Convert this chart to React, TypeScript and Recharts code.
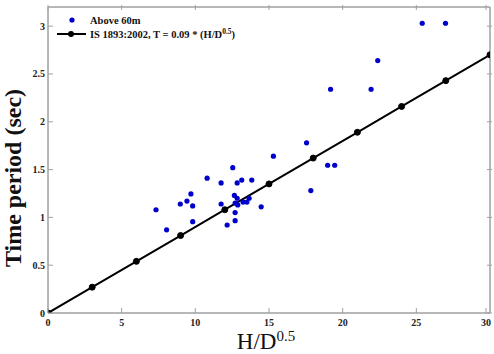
import React from "react";
import { ComposedChart, Scatter, Line, XAxis, YAxis, ReferenceArea } from "recharts";

const xTicks = [0, 5, 10, 15, 20, 25, 30];
const yTicks = [0, 0.5, 1, 1.5, 2, 2.5, 3];

// Measured buildings above 60m: H/D^0.5 and time period (sec)
const aboveX = [7.33, 8.05, 8.98, 9.43, 9.7, 9.82, 9.82, 10.8, 11.75, 11.75, 12.16, 12.54, 12.84, 13.15, 13.83, 12.65, 12.84, 12.7, 12.88, 13.24, 13.5, 13.65, 12.7, 12.7, 14.47, 15.3, 17.55, 18.98, 19.46, 17.84, 19.18, 21.93, 22.38, 25.4, 26.98];
const aboveT = [1.08, 0.87, 1.14, 1.17, 1.245, 1.12, 0.955, 1.41, 1.36, 1.14, 0.92, 1.52, 1.36, 1.39, 1.39, 1.23, 1.2, 1.15, 1.13, 1.16, 1.16, 1.2, 1.05, 0.965, 1.11, 1.64, 1.78, 1.545, 1.545, 1.28, 2.34, 2.34, 2.64, 3.03, 3.03];

// IS 1893:2002 code line, T = 0.09 * (H/D^0.5)
const codeX = [0, 3, 6, 9, 12, 15, 18, 21, 24, 27, 30];
const codeT = [0, 0.27, 0.54, 0.81, 1.08, 1.35, 1.62, 1.89, 2.16, 2.43, 2.7];

const scatterData = aboveX.map((x, i) => ({ x, y: aboveT[i] }));
const lineData = codeX.map((x, i) => ({ x, y: codeT[i] }));

const FONT = "'Liberation Serif', 'DejaVu Serif', serif";
const AXIS = "#a0a0a0";

const BottomTick = (p: any) => (
  <g>
    <line x1={p.x} x2={p.x} y1={p.y} y2={p.y - 5} stroke={AXIS} />
    <text x={p.x} y={p.y + 13} textAnchor="middle" fontFamily={FONT} fontWeight="bold" fontSize={10} fill="#222">
      {p.payload.value}
    </text>
  </g>
);
const TopTick = (p: any) => (
  <line x1={p.x} x2={p.x} y1={p.y} y2={p.y + 5} stroke={AXIS} />
);
const LeftTick = (p: any) => (
  <g>
    <line x1={p.x} x2={p.x + 5} y1={p.y} y2={p.y} stroke={AXIS} />
    <text x={p.x - 3} y={p.y + 3.5} textAnchor="end" fontFamily={FONT} fontWeight="bold" fontSize={10} fill="#222">
      {p.payload.value}
    </text>
  </g>
);
const RightTick = (p: any) => (
  <line x1={p.x} x2={p.x - 5} y1={p.y} y2={p.y} stroke={AXIS} />
);

export default function App() {
  return (
    <div style={{ position: "absolute", left: 0, top: 0, width: 494, height: 354, background: "#fff" }}>
      <ComposedChart
        width={494}
        height={354}
        margin={{ top: 6, right: 3, bottom: 0, left: 0 }}
      >
        <XAxis
          xAxisId="b"
          type="number"
          dataKey="x"
          domain={[0, 30]}
          ticks={xTicks}
          allowDataOverflow
          axisLine={{ stroke: AXIS }}
          tickLine={false}
          tickSize={0}
          tickMargin={0}
          tick={<BottomTick />}
          height={41}
        />
        <XAxis
          xAxisId="t"
          orientation="top"
          type="number"
          dataKey="x"
          domain={[0, 30]}
          ticks={xTicks}
          allowDataOverflow
          axisLine={{ stroke: AXIS }}
          tickLine={false}
          tickSize={0}
          tick={<TopTick />}
          height={1}
        />
        <YAxis
          yAxisId="l"
          type="number"
          dataKey="y"
          domain={[0, 3.2]}
          ticks={yTicks}
          allowDataOverflow
          axisLine={{ stroke: AXIS }}
          tickLine={false}
          tickSize={0}
          tickMargin={0}
          tick={<LeftTick />}
          width={48}
        />
        <YAxis
          yAxisId="r"
          orientation="right"
          type="number"
          dataKey="y"
          domain={[0, 3.2]}
          ticks={yTicks}
          allowDataOverflow
          axisLine={{ stroke: AXIS }}
          tickLine={false}
          tickSize={0}
          tick={<RightTick />}
          width={1}
        />
        <ReferenceArea
          xAxisId="b"
          yAxisId="l"
          x1={0}
          x2={30}
          y1={0}
          y2={3.2}
          fill="none"
          fillOpacity={0}
          stroke={AXIS}
          strokeOpacity={1}
          ifOverflow="visible"
        />
        <Line
          xAxisId="b"
          yAxisId="l"
          data={lineData}
          dataKey="y"
          type="linear"
          stroke="#000"
          strokeWidth={2}
          dot={{ r: 3, fill: "#000", stroke: "#000", strokeWidth: 1 }}
          isAnimationActive={false}
        />
        <Scatter
          xAxisId="b"
          yAxisId="l"
          data={scatterData}
          dataKey="y"
          fill="#0000cc"
          shape={(p: any) => <circle cx={p.cx} cy={p.cy} r={2.6} fill="#0000cc" />}
          isAnimationActive={false}
        />
      </ComposedChart>

      <div style={{ position: "absolute", left: 50, top: 10, pointerEvents: "none" }}>
        <svg width={240} height={36}>
          <circle cx={22} cy={10} r={2.6} fill="#0000cc" />
          <text x={40} y={14} fontFamily={FONT} fontWeight="bold" fontSize={10.5} fill="#111">Above  60m</text>
          <line x1={7} x2={36} y1={24} y2={24} stroke="#000" strokeWidth={2} />
          <circle cx={21} cy={24} r={3} fill="#000" />
          <text x={40} y={28} fontFamily={FONT} fontWeight="bold" fontSize={10.5} fill="#111">
            IS 1893:2002, T = 0.09 * (H/D
            <tspan fontSize={7.5} dy={-4}>0.5</tspan>
            <tspan dy={4}>)</tspan>
          </text>
        </svg>
      </div>

      <div style={{ position: "absolute", left: 0, top: 0, pointerEvents: "none" }}>
        <svg width={494} height={354}>
          <text
            transform="translate(21,178) rotate(-90)"
            textAnchor="middle"
            fontFamily={FONT}
            fontWeight="bold"
            fontSize={24}
            fill="#111"
          >
            Time period (sec)
          </text>
          <text x={266} y={349} textAnchor="middle" fontFamily={FONT} fontSize={23} fill="#111">
            H/D<tspan fontSize={15} dy={-8}>0.5</tspan>
          </text>
        </svg>
      </div>
    </div>
  );
}
